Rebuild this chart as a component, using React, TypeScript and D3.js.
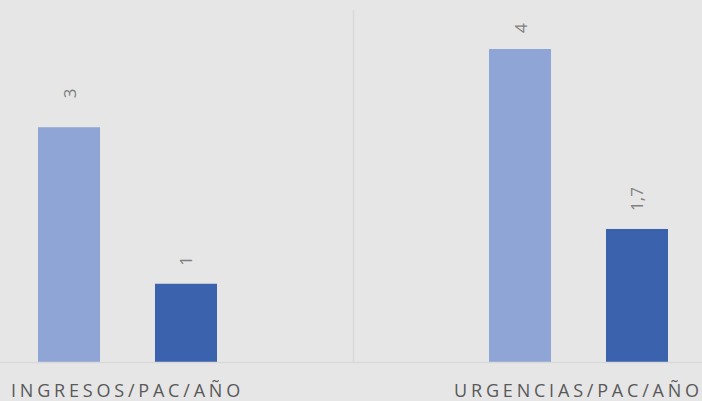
import React from "react";
import * as d3 from "d3";

const categories = ["INGRESOS/PAC/AÑO", "URGENCIAS/PAC/AÑO"];
const seriesNames = ["A", "B"];
const seriesA = [3, 4];
const seriesB = [1, 1.7];
const valueLabels = [["3", "4"], ["1", "1,7"]];
const labelGaps = [[29, 16], [18, 18]];

const W = 702;
const H = 401;
const colors = ["#8FA5D6", "#3B63AD"];

export default function App() {
  const x0 = d3.scaleBand<string>().domain(categories).range([-98, 804]).padding(0);
  const x1 = d3.scaleBand<string>().domain(seriesNames).range([136, 315]).paddingInner(0.47).paddingOuter(0);
  const y = d3.scaleLinear().domain([0, 4]).range([362, 49]);
  const series = [seriesA, seriesB];

  return (
    <svg width={W} height={H} style={{ position: "absolute", left: 0, top: 0 }} fontFamily="'Open Sans', sans-serif">
      <rect x={0} y={0} width={W} height={H} fill="#E6E6E6" />
      {categories.slice(1).map((c) => (
        <line key={c} x1={(x0(c) ?? 0) + 0.5} x2={(x0(c) ?? 0) + 0.5} y1={10} y2={y(0)} stroke="#D9D9D9" strokeWidth={1.5} />
      ))}
      {categories.map((c, ci) => (
        <g key={c} transform={`translate(${x0(c)},0)`}>
          {series.map((s, si) => {
            const bx = x1(seriesNames[si]) ?? 0;
            const bw = x1.bandwidth();
            const top = y(s[ci]);
            const cx = bx + bw / 2;
            return (
              <g key={si}>
                <rect x={bx} y={top} width={bw} height={y(0) - top} fill={colors[si]} />
                <text
                  transform={`translate(${cx + 6.5},${top - labelGaps[si][ci]}) rotate(-90)`}
                  fontSize={17}
                  fill="#7F7F7F"
                  textAnchor="start"
                >
                  {valueLabels[si][ci]}
                </text>
              </g>
            );
          })}
          <text
            x={x0.bandwidth() / 2}
            y={396.5}
            fontSize={18}
            letterSpacing={3.8}
            fill="#595959"
            textAnchor="middle"
          >
            {c}
          </text>
        </g>
      ))}
      <line x1={0} x2={W} y1={y(0) + 0.5} y2={y(0) + 0.5} stroke="#D9D9D9" strokeWidth={1.5} />
    </svg>
  );
}
